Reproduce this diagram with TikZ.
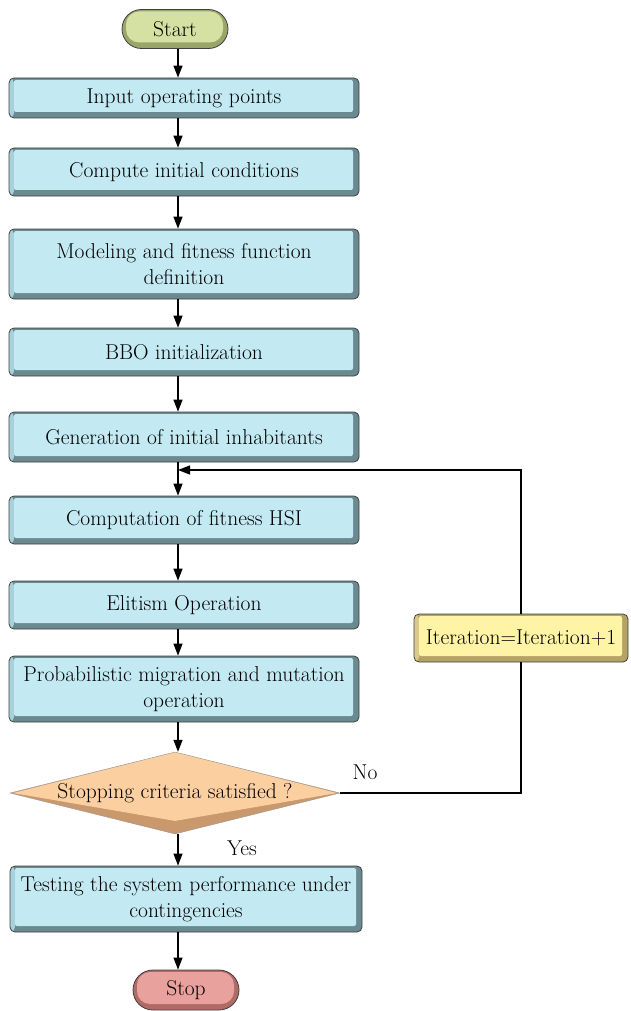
\documentclass[tikz,border=0pt]{standalone}
\usetikzlibrary{calc}
\usetikzlibrary{arrows.meta}
\usetikzlibrary{shapes.geometric}
\usetikzlibrary{shapes.misc}

\definecolor{blueface}{HTML}{C3E9F3}
\definecolor{bluedark}{HTML}{6A8990}
\definecolor{bluelight}{HTML}{A7D2DC}
\definecolor{greenface}{HTML}{D4E1A3}
\definecolor{greendark}{HTML}{9AA56A}
\definecolor{redface}{HTML}{E9A19D}
\definecolor{reddark}{HTML}{B06B67}
\definecolor{yellowface}{HTML}{FFF3A6}
\definecolor{yellowdark}{HTML}{B5A266}
\definecolor{yellowlight}{HTML}{DCC98A}
\definecolor{orangeface}{HTML}{FCCFA0}
\definecolor{orangedark}{HTML}{C9986D}

\tikzset{
  every node/.style={font=\fontsize{21.5}{26}\selectfont},
  bevelbox/.style n args={3}{fill=#2,
    path picture={
      \fill[#3] (path picture bounding box.south west) rectangle ([xshift=5pt]path picture bounding box.north west);
      \fill[#1, rounded corners=2pt] ([xshift=5pt,yshift=6pt]path picture bounding box.south west) rectangle ([xshift=-6pt,yshift=-2pt]path picture bounding box.north east);
    }},
  stepbox/.style={rectangle, draw=black!75, line width=0.8pt, rounded corners=5pt,
    minimum width=350pt, minimum height=48pt, align=center, inner sep=0pt,
    bevelbox={blueface}{bluedark}{bluelight}},
  pill/.style n args={2}{rounded rectangle, draw=black!75, line width=0.8pt,
    minimum width=106pt, minimum height=39pt, inner sep=0pt, fill=#2,
    path picture={
      \fill[#1, rounded corners=13pt] ([xshift=4pt,yshift=6pt]path picture bounding box.south west) rectangle ([xshift=-5pt,yshift=-2pt]path picture bounding box.north east);
    }},
  decision/.style={diamond, draw=black!40, line width=0.4pt, minimum width=330pt,
    minimum height=82pt, inner sep=0pt, fill=orangedark,
    path picture={
      \fill[orangeface] ([xshift=3pt]path picture bounding box.west) -- (path picture bounding box.north)
        -- ([xshift=-3pt]path picture bounding box.east) -- ([yshift=13pt]path picture bounding box.south) -- cycle;
    }},
  arr/.style={line width=1.3pt, -{Triangle[length=12pt,width=9pt]}},
  loopline/.style={line width=1.3pt},
}

\begin{document}
\begin{tikzpicture}[x=1pt,y=-1pt]
            \useasboundingbox (0,0) rectangle (630,1011);

            % Terminal Start
            \node [pill={greenface}{greendark}] (start) at (175,29) {Start};%

            % Process boxes
            \node [stepbox, minimum height=40pt] (input) at (184,98) {Input operating points};%
            \node [stepbox] (compute) at (184,172) {Compute initial conditions};%
            \node [stepbox, minimum height=70pt] (model) at (184,264) {Modeling and fitness function\\definition};%
            \node [stepbox] (bbo) at (184,352) {BBO initialization};%
            \node [stepbox, minimum height=50pt] (gen) at (184,437) {Generation of initial inhabitants};%
            \node [stepbox] (fitness) at (184,520) {Computation of fitness HSI};%
            \node [stepbox] (elitism) at (184,605) {Elitism Operation};%
            \node [stepbox, minimum height=66pt] (migrate) at (184,689) {Probabilistic migration and mutation\\operation};%

            % Decision
            \node [decision] (stopcrit) at (175,793) {\makebox[0pt]{Stopping criteria satisfied ?}};%

            % Final test and Stop
            \node [stepbox, minimum width=352pt, minimum height=66pt] (test) at (186,899) {Testing the system performance under\\contingencies};%
            \node [pill={redface}{reddark}, minimum height=40pt] (stop) at (186,990) {Stop};%

            % Iteration counter
            \node [stepbox, minimum width=214pt, bevelbox={yellowface}{yellowdark}{yellowlight}] (iter) at (521,638) {Iteration=Iteration+1};%

            % Main flow
            \coordinate (spine) at (178,0);
            \foreach \a/\b in {start/input, input/compute, compute/model, model/bbo, bbo/gen,
                               gen/fitness, fitness/elitism, elitism/migrate, migrate/stopcrit,
                               stopcrit/test, test/stop}
              \draw [arr] (\a.south -| spine) -- (\b.north -| spine);%

            % Loop back
            \coordinate (back) at (178,470);
            \draw [loopline] (stopcrit.east) -| (iter.south);%
            \draw [arr] (iter.north) |- (back);%

            % Branch labels
            \node (no) at (365,772) {No};%
            \node (yes) at (242,848) {Yes};%
\end{tikzpicture}
\end{document}
